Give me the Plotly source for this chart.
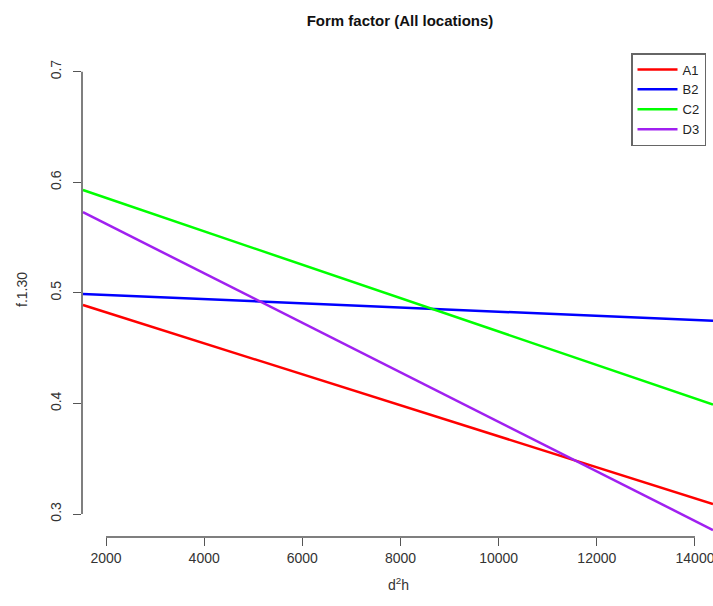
import plotly.graph_objects as go

# Data (fitted lines: value at start and end of d²h range)
x_vals = [1530, 14367]
series_names = ["A1", "B2", "C2", "D3"]
A1 = [0.489, 0.309]
B2 = [0.499, 0.4747]
C2 = [0.593, 0.399]
D3 = [0.573, 0.2855]
x_ticks = [2000, 4000, 6000, 8000, 10000, 12000, 14000]
y_ticks = [0.3, 0.4, 0.5, 0.6, 0.7]

colors = ["#FF0000", "#0000FF", "#00FF00", "#A020F0"]
FONT = "Liberation Sans, Arial, sans-serif"

fig = go.Figure()
for name, ys, c in zip(series_names, [A1, B2, C2, D3], colors):
    fig.add_trace(go.Scatter(x=x_vals, y=ys, mode="lines", name=name,
                             line=dict(color=c, width=2.5)))

axis_color = "#555555"
fig.update_layout(
    width=713, height=606,
    paper_bgcolor="white", plot_bgcolor="white",
    margin=dict(l=82, r=0, t=60, b=69, autoexpand=False),
    font=dict(family=FONT, color="#222222", size=14),
    title=dict(text="<b>Form factor (All locations)</b>", x=400/713, xanchor="center",
               y=1 - 21/606, yanchor="middle", font=dict(size=15, color="#111111")),
    xaxis=dict(range=[1511, 14367], tickvals=x_ticks, ticktext=[str(v) for v in x_ticks],
               ticks="outside", ticklen=8, tickcolor=axis_color, showgrid=False,
               zeroline=False, showline=False, automargin=False,
               ticklabeloverflow="allow",
               tickfont=dict(size=14, color="#333333")),
    yaxis=dict(range=[0.2792, 0.7106], tickvals=y_ticks, ticktext=[f"{v:.1f}" for v in y_ticks],
               ticks="outside", ticklen=8, tickcolor=axis_color, showgrid=False,
               zeroline=False, showline=False, automargin=False, tickangle=-90,
               ticklabelstandoff=6, ticklabeloverflow="allow",
               tickfont=dict(size=14, color="#333333")),
    legend=dict(x=(631 - 82) / 631, y=1 + 7 / 477, xanchor="left", yanchor="top",
                bordercolor="#666666", borderwidth=1.5, bgcolor="white",
                font=dict(size=13, color="#222222"), itemwidth=40, tracegroupgap=0),
    showlegend=True,
)

# R-style axis lines spanning only the tick range
fig.add_shape(type="line", xref="paper", yref="y", x0=0, x1=0, y0=y_ticks[0], y1=y_ticks[-1],
              line=dict(color=axis_color, width=1.5))
fig.add_shape(type="line", xref="x", yref="paper", x0=x_ticks[0], x1=x_ticks[-1], y0=0, y1=0,
              line=dict(color=axis_color, width=1.5))

fig.add_annotation(text="f.1.30", xref="paper", yref="paper", x=-60/631, y=(537-290)/477,
                   xanchor="center", yanchor="middle",
                   showarrow=False, textangle=-90, font=dict(size=14, color="#333333"))
fig.add_annotation(text="d<sup>2</sup>h", xref="paper", yref="paper", x=(398-82)/631,
                   y=-(584-537)/477, xanchor="center", yanchor="middle",
                   showarrow=False, font=dict(size=14, color="#333333"))

fig.write_html("out.html", config={"displayModeBar": False},
               post_script="document.body.style.margin='0';document.body.style.overflow='hidden';")
